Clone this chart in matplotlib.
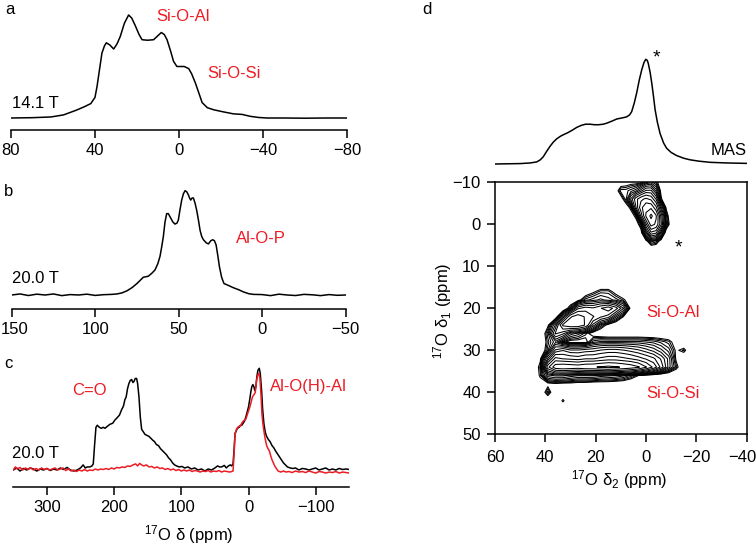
import matplotlib
matplotlib.use("Agg")
import matplotlib.pyplot as plt
import matplotlib.transforms as mtransforms
import numpy as np

plt.rcParams["font.family"] = ["Liberation Sans", "DejaVu Sans"]
plt.rcParams["mathtext.fontset"] = "custom"
plt.rcParams["mathtext.rm"] = "Liberation Sans"
plt.rcParams["mathtext.it"] = "Liberation Sans:italic"

RED = "#ed1c24"

# ---- panel a: 14.1 T spectrum (ppm, relative intensity)
spec_a = [(80, 0.0), (70, 0.003), (61, 0.01), (55, 0.03), (49, 0.075), (45, 0.11),
          (42, 0.14), (40, 0.2), (39, 0.31), (38, 0.45), (36.7, 0.63), (35.5, 0.7),
          (34.6, 0.73), (33, 0.71), (31.1, 0.67), (29.5, 0.72), (28, 0.79), (26, 0.92),
          (24, 1.0), (22.5, 0.97), (20.9, 0.9), (19, 0.81), (17.6, 0.76), (15, 0.755),
          (12.1, 0.76), (10, 0.8), (8.4, 0.83), (7, 0.81), (5.7, 0.76), (4, 0.65),
          (2.6, 0.55), (1, 0.5), (-0.6, 0.5), (-2.5, 0.5), (-4.6, 0.48), (-6, 0.43),
          (-7.8, 0.34), (-9.5, 0.24), (-11, 0.15), (-13.5, 0.1), (-16.5, 0.08),
          (-21, 0.06), (-26, 0.04), (-30, 0.035), (-34, 0.016), (-38, 0.005),
          (-42, 0.0), (-50, 0.0), (-60, -0.002), (-70, 0.0), (-80, 0.0)]

# ---- panel b: 20.0 T spectrum
spec_b = [(150, 0.0), (145, 0.01), (140, -0.005), (135, 0.008), (130, 0.0), (125, 0.01),
          (120, -0.006), (115, 0.004), (110, 0.0), (105, 0.008), (100, -0.004),
          (95, 0.003), (90, 0.006), (87, 0.01), (84, 0.02), (81, 0.04), (78, 0.07),
          (75, 0.11), (71.2, 0.17), (68.2, 0.18), (66, 0.21), (64.2, 0.24), (62.5, 0.3),
          (61.2, 0.37), (60.2, 0.46), (59.2, 0.56), (58.2, 0.7), (57.2, 0.78),
          (56.2, 0.78), (55.2, 0.75), (53.5, 0.7), (52.2, 0.68), (51, 0.69),
          (50.2, 0.72), (49.2, 0.82), (48.2, 0.91), (47.2, 0.97), (46.2, 1.0),
          (45.2, 0.99), (44.2, 0.96), (43.5, 0.93), (42.8, 0.91), (42, 0.93),
          (41.2, 0.93), (40.2, 0.88), (39.2, 0.81), (38.2, 0.72), (37.2, 0.62),
          (36.2, 0.56), (35.2, 0.53), (33.5, 0.5), (32.2, 0.49), (30.8, 0.52),
          (29.6, 0.53), (28.6, 0.52), (27.6, 0.48), (26.6, 0.38), (25.6, 0.27),
          (24.3, 0.17), (22.9, 0.11), (20, 0.09), (17.3, 0.07), (14, 0.05),
          (11.3, 0.03), (8, 0.012), (5.3, 0.006), (0, 0.004), (-5, -0.006),
          (-10, 0.008), (-15, 0.0), (-20, -0.005), (-25, 0.006), (-30, 0.002),
          (-35, -0.006), (-40, 0.004), (-45, -0.003), (-50, 0.0)]

# ---- panel c: 20.0 T, black and red traces
spec_c_black = [
    (350, 0.0), (345, 0.02), (340, -0.01), (335, 0.015), (330, 0.0), (325, 0.02),
    (320, 0.01), (315, -0.01), (310, 0.01), (305, 0.0), (300, 0.015), (295, -0.005),
    (290, 0.01), (285, 0.0), (280, 0.02), (275, 0.005), (270, 0.025), (265, 0.0),
    (260, -0.01), (255, 0.0), (250, 0.02), (246, 0.05), (243, 0.02), (240, 0.03),
    (236, 0.03), (233, 0.04), (231, 0.06), (229, 0.25), (227, 0.42), (225, 0.44),
    (222, 0.42), (219, 0.41), (216, 0.42), (213.6, 0.41), (210, 0.43), (206, 0.45),
    (202, 0.46), (199, 0.49), (196, 0.51), (192, 0.54), (189, 0.59), (186, 0.63),
    (184, 0.69), (182, 0.72), (180, 0.8), (178, 0.85), (176, 0.88), (174, 0.89),
    (172, 0.86), (170.5, 0.87), (168.5, 0.9), (166.5, 0.9), (165, 0.85), (163, 0.72),
    (161, 0.52), (159, 0.4), (157, 0.38), (154, 0.35), (151, 0.34), (148, 0.33),
    (145, 0.31), (142, 0.29), (140, 0.28), (137, 0.25), (134, 0.24), (131, 0.21),
    (128, 0.19), (125, 0.17), (122, 0.15), (119, 0.12), (116, 0.1), (113, 0.07),
    (110, 0.05), (107, 0.04), (103, 0.03), (99, 0.035), (95, 0.02), (90, 0.03),
    (85, 0.01), (80, 0.02), (75, 0.0), (70, 0.01), (65, -0.01), (60, 0.01),
    (55, 0.0), (50, 0.02), (46, 0.04), (43, 0.03), (40, 0.03), (36, 0.045),
    (33, 0.02), (30, 0.04), (27, 0.05), (25, 0.04), (23, 0.06), (21.5, 0.2),
    (20, 0.36), (18, 0.39), (16.5, 0.41), (14, 0.42), (12, 0.44), (10, 0.44),
    (8, 0.46), (6, 0.48), (4, 0.52), (2, 0.57), (0, 0.62), (-2, 0.7), (-3.5, 0.77),
    (-5, 0.82), (-6.5, 0.84), (-8, 0.82), (-9.5, 0.78), (-11, 0.82), (-12.5, 0.92),
    (-14, 0.98), (-16, 1.0), (-17.5, 0.95), (-19.5, 0.78), (-21, 0.6), (-23, 0.45),
    (-25, 0.37), (-27, 0.33), (-29.5, 0.3), (-32, 0.28), (-35, 0.24), (-37.5, 0.22),
    (-40, 0.19), (-43, 0.16), (-46, 0.13), (-49, 0.1), (-52, 0.07), (-55, 0.05),
    (-58, 0.03), (-62, 0.02), (-66, 0.015), (-70, 0.02), (-75, 0.0), (-80, 0.015),
    (-85, 0.01), (-90, 0.0), (-95, 0.01), (-100, 0.02), (-105, 0.0), (-110, 0.01),
    (-115, 0.02), (-120, 0.0), (-125, 0.01), (-130, 0.0), (-135, 0.015),
    (-140, 0.005), (-145, 0.01), (-150, 0.005)]

spec_c_red = [
    (350, 0.0), (347, 0.03), (344, 0.01), (340, 0.025), (336, 0.0), (332, 0.02),
    (328, 0.005), (324, 0.02), (320, 0.0), (316, 0.015), (312, 0.0), (308, 0.02),
    (304, 0.005), (300, 0.015), (296, 0.0), (292, 0.01), (288, 0.02), (284, 0.0),
    (280, 0.01), (276, 0.02), (272, -0.005), (268, 0.01), (264, -0.01), (260, 0.0),
    (256, -0.015), (252, 0.0), (248, -0.01), (244, 0.005), (240, -0.01), (236, 0.0),
    (232, -0.005), (228, 0.01), (224, 0.0), (220, 0.01), (216, 0.005), (212, 0.015),
    (208, 0.005), (204, 0.02), (200, 0.01), (196, 0.025), (192, 0.02), (188, 0.03),
    (184, 0.025), (180, 0.04), (176, 0.035), (172, 0.05), (168, 0.06), (165, 0.04),
    (162, 0.065), (159, 0.05), (156, 0.04), (152, 0.05), (148, 0.03), (144, 0.035),
    (140, 0.02), (136, 0.03), (132, 0.015), (128, 0.02), (124, 0.005), (120, 0.015),
    (116, 0.0), (112, 0.01), (108, -0.005), (104, 0.005), (100, -0.01), (96, 0.0),
    (92, -0.01), (88, 0.0), (84, -0.015), (80, -0.005), (76, -0.01), (72, -0.02),
    (68, -0.01), (64, -0.015), (60, -0.005), (56, -0.02), (52, -0.01), (48, -0.015),
    (44, -0.005), (40, -0.02), (36, -0.01), (32, -0.015), (28, -0.02), (25, -0.015),
    (23, -0.01), (21.5, 0.15), (20, 0.35), (18, 0.4), (16, 0.42), (14, 0.43),
    (12, 0.43), (10, 0.46), (8, 0.48), (6, 0.49), (4, 0.5), (2, 0.54), (0, 0.58),
    (-2, 0.62), (-4, 0.67), (-6, 0.72), (-8, 0.74), (-10, 0.76), (-12, 0.88),
    (-14, 0.94), (-15.5, 0.95), (-17, 0.9), (-18.5, 0.75), (-20, 0.55),
    (-21.5, 0.45), (-23, 0.38), (-25, 0.3), (-27, 0.24), (-29, 0.21), (-31, 0.19),
    (-33, 0.14), (-35, 0.1), (-37, 0.07), (-39, 0.04), (-41, 0.02), (-44, -0.01),
    (-48, -0.02), (-52, -0.01), (-56, -0.02), (-60, -0.015), (-65, -0.025),
    (-70, -0.01), (-75, -0.02), (-80, -0.015), (-85, -0.025), (-90, -0.01),
    (-95, -0.02), (-100, -0.03), (-105, -0.015), (-110, -0.02), (-115, -0.03),
    (-120, -0.02), (-125, -0.025), (-130, -0.015), (-135, -0.03), (-140, -0.02),
    (-145, -0.025), (-150, -0.03)]

# ---- panel d: MAS projection
spec_mas = [(60, 0.0), (55, 0.002), (50, 0.004), (46, 0.01), (43.4, 0.02), (42, 0.04),
            (40.8, 0.07), (39.5, 0.12), (38.1, 0.17), (36.8, 0.21), (35.5, 0.24),
            (34, 0.265), (32.8, 0.28), (31, 0.3), (29.5, 0.32), (27.5, 0.35),
            (25.6, 0.37), (24, 0.38), (22.2, 0.38), (20.5, 0.375), (18.9, 0.375),
            (17, 0.38), (15.6, 0.39), (13.5, 0.41), (11.6, 0.43), (9.5, 0.44),
            (7.7, 0.45), (6.5, 0.47), (5.7, 0.5), (4.7, 0.58), (3.7, 0.68), (2.7, 0.8),
            (1.7, 0.9), (0.8, 0.97), (0.1, 1.0), (-0.5, 0.99), (-0.9, 0.96),
            (-1.6, 0.88), (-2.3, 0.77), (-3, 0.64), (-3.6, 0.52), (-4.5, 0.4),
            (-5.6, 0.29), (-7, 0.2), (-8.2, 0.15), (-10, 0.11), (-12.2, 0.08),
            (-15, 0.055), (-17.5, 0.04), (-21, 0.027), (-25.5, 0.016), (-32, 0.01),
            (-39.8, 0.006)]

# ---- panel d: 2D map, read on coarse grids (delta2 columns, delta1 rows)
ridge_d2 = [48, 45, 42, 39, 36, 33, 30, 27, 24, 21, 18, 15, 12, 9, 6, 3, 0, -3, -6, -9, -12, -15, -18]
ridge_d1 = [12, 14, 16, 18, 20, 22, 24, 26, 28, 30, 32, 34, 36, 38, 40, 42, 44, 46]
ridge_z = [
    [0] * 23,
    [0] * 23,
    [0, 0, 0, 0, 0, 0, 0, 0, 0.02, 0.05, 0.08, 0.08, 0.04, 0, 0, 0, 0, 0, 0, 0, 0, 0, 0],
    [0, 0, 0, 0, 0, 0, 0, 0.04, 0.1, 0.12, 0.14, 0.12, 0.1, 0.07, 0.02, 0, 0, 0, 0, 0, 0, 0, 0],
    [0, 0, 0, 0, 0, 0, 0.1, 0.28, 0.32, 0.3, 0.35, 0.4, 0.32, 0.2, 0.04, 0, 0, 0, 0, 0, 0, 0, 0],
    [0, 0, 0, 0, 0.02, 0.2, 0.42, 0.48, 0.42, 0.36, 0.3, 0.26, 0.14, 0.06, 0, 0, 0, 0, 0, 0, 0, 0, 0],
    [0, 0, 0, 0.05, 0.2, 0.45, 0.5, 0.5, 0.42, 0.22, 0.1, 0.04, 0.01, 0, 0, 0, 0, 0, 0, 0, 0, 0, 0],
    [0, 0, 0, 0.1, 0.3, 0.25, 0.15, 0.12, 0.08, 0.03, 0.01, 0, 0, 0, 0, 0, 0, 0, 0, 0, 0, 0, 0],
    [0, 0, 0, 0.08, 0.15, 0.07, 0.04, 0.04, 0.04, 0.12, 0.14, 0.14, 0.14, 0.14, 0.14, 0.14, 0.13, 0.12, 0.1, 0.08, 0.03, 0, 0],
    [0, 0, 0, 0.1, 0.3, 0.35, 0.3, 0.3, 0.32, 0.33, 0.36, 0.38, 0.38, 0.36, 0.33, 0.3, 0.26, 0.22, 0.17, 0.12, 0.05, 0.08, 0],
    [0, 0, 0.05, 0.3, 0.56, 0.52, 0.5, 0.48, 0.52, 0.52, 0.55, 0.58, 0.58, 0.55, 0.52, 0.47, 0.42, 0.37, 0.28, 0.18, 0.05, 0, 0],
    [0, 0, 0.08, 0.6, 0.88, 0.92, 0.9, 0.88, 0.92, 0.93, 0.97, 1.0, 0.97, 0.93, 0.88, 0.8, 0.65, 0.5, 0.33, 0.18, 0.08, 0, 0],
    [0, 0, 0.07, 0.22, 0.25, 0.25, 0.22, 0.2, 0.2, 0.2, 0.18, 0.17, 0.16, 0.14, 0.1, 0.06, 0.03, 0.01, 0, 0, 0, 0, 0],
    [0, 0, 0.03, 0.04, 0.05, 0.04, 0.04, 0.03, 0.03, 0.02, 0.02, 0.02, 0.015, 0.01, 0, 0, 0, 0, 0, 0, 0, 0, 0],
    [0, 0, 0, 0.1, 0, 0, 0, 0, 0, 0, 0, 0, 0, 0, 0, 0, 0, 0, 0, 0, 0, 0, 0],
    [0, 0, 0, 0, 0, 0.07, 0, 0, 0, 0, 0, 0, 0, 0, 0, 0, 0, 0, 0, 0, 0, 0, 0],
    [0] * 23,
    [0] * 23,
]

blob_d2 = [14, 12, 10, 8, 6, 4, 2, 0, -2, -4, -6, -8, -10, -12]
blob_d1 = [-12, -10, -8, -6, -4, -2, 0, 2, 4, 6]
blob_z = [
    [0, 0, 0, 0, 0, 0, 0.02, 0.08, 0.1, 0.05, 0, 0, 0, 0],
    [0, 0, 0.02, 0.03, 0.04, 0.04, 0.05, 0.1, 0.12, 0.08, 0.02, 0, 0, 0],
    [0, 0.03, 0.1, 0.1, 0.12, 0.15, 0.22, 0.3, 0.3, 0.18, 0.04, 0, 0, 0],
    [0, 0, 0.03, 0.1, 0.25, 0.4, 0.5, 0.55, 0.5, 0.35, 0.07, 0, 0, 0],
    [0, 0, 0, 0.02, 0.08, 0.35, 0.6, 0.75, 0.75, 0.55, 0.25, 0.05, 0, 0],
    [0, 0, 0, 0, 0.02, 0.08, 0.45, 0.8, 1.0, 0.8, 0.4, 0.1, 0, 0],
    [0, 0, 0, 0, 0, 0.02, 0.1, 0.5, 0.85, 0.75, 0.45, 0.12, 0.02, 0],
    [0, 0, 0, 0, 0, 0, 0.03, 0.25, 0.5, 0.45, 0.2, 0.02, 0, 0],
    [0, 0, 0, 0, 0, 0, 0, 0.04, 0.12, 0.1, 0.03, 0, 0, 0],
    [0] * 14,
]

W, H = 756, 548
fig = plt.figure(figsize=(W / 100, H / 100), dpi=100)


def px_axes(left, top, right, bottom):
    return fig.add_axes([left / W, 1 - bottom / H, (right - left) / W, (bottom - top) / H])


def ftext(x, y, s, **kw):
    kw.setdefault("fontsize", 12)
    kw.setdefault("va", "baseline")
    fig.text(x / W, 1 - y / H, s, **kw)


def nudge(label, dx_px):
    # shift one tick label sideways so it stays inside the figure
    label.set_transform(label.get_transform()
                        + mtransforms.ScaledTranslation(dx_px / 100, 0, fig.dpi_scale_trans))


def spectrum_axes(left, top, right, bottom, base_px, peak_px, xlim, ticks, axis=True):
    ax = px_axes(left, top, right, bottom)
    h = bottom - top
    f0 = (bottom - base_px) / h
    f1 = (bottom - peak_px) / h
    ax.set_ylim(-f0 / (f1 - f0), (1 - f0) / (f1 - f0))
    ax.set_xlim(*xlim)
    ax.patch.set_alpha(0)
    for s in ["top", "left", "right"]:
        ax.spines[s].set_visible(False)
    ax.set_yticks([])
    if axis:
        ax.set_xticks(ticks)
        ax.spines["bottom"].set_linewidth(1.1)
        ax.tick_params(axis="x", direction="out", length=6, width=1.1, pad=3.6, labelsize=12)
    else:
        ax.spines["bottom"].set_visible(False)
        ax.set_xticks([])
    return ax


def plot_spec(ax, spec, color="black"):
    arr = np.array(spec)
    ax.plot(arr[:, 0], arr[:, 1], color=color, lw=1.1)


# panel a
ax_a = spectrum_axes(11, 5, 347, 130, 118, 15, (80, -80), [80, 40, 0, -40, -80])
plot_spec(ax_a, spec_a)
ftext(5, 13.5, "a")
ftext(12.5, 108.5, "14.1 T")
ftext(156, 20.7, "Si-O-Al", color=RED)
ftext(207, 78.3, "Si-O-Si", color=RED)

# panel b
ax_b = spectrum_axes(11.7, 180, 345.7, 309, 295, 190.7, (150, -50), [150, 100, 50, 0, -50])
plot_spec(ax_b, spec_b)
nudge(ax_b.get_xticklabels()[0], 3)
ftext(4, 196, "b")
ftext(11.7, 283.3, "20.0 T")
ftext(235.7, 243.3, "Al-O-P", color=RED)

# panel c
ax_c = spectrum_axes(13.3, 355, 349.3, 486.7, 470, 368.3, (350, -150), [300, 200, 100, 0, -100])
plot_spec(ax_c, spec_c_black)
plot_spec(ax_c, spec_c_red, RED)
ftext(4, 368.3, "c")
ftext(71.7, 395, "C=O", color=RED)
ftext(270, 391, "Al-O(H)-Al", color=RED)
ftext(11.7, 458.3, "20.0 T")
ftext(189, 540, r"$^{17}$O δ (ppm)", ha="center")

# panel d: MAS projection on top
ax_m = spectrum_axes(495, 40, 746.7, 170, 164, 59.3, (60, -40), [], axis=False)
plot_spec(ax_m, spec_mas)
ftext(422, 14, "d")
ftext(656, 62, "*", fontsize=14, ha="center")
ftext(746.7, 155, "MAS", ha="right")

# panel d: 2D contour map
ax_d = px_axes(495, 182.3, 746.7, 434.3)
levels = np.geomspace(0.06, 0.95, 15)
ax_d.contour(ridge_d2, ridge_d1, np.array(ridge_z), levels=levels, colors="black", linewidths=0.75)
ax_d.contour(blob_d2, blob_d1, np.array(blob_z), levels=levels, colors="black", linewidths=0.75)
ax_d.set_xlim(60, -40)
ax_d.set_ylim(50, -10)
ax_d.set_xticks([60, 40, 20, 0, -20, -40])
ax_d.set_yticks([-10, 0, 10, 20, 30, 40, 50])
for s in ax_d.spines.values():
    s.set_linewidth(1.1)
ax_d.tick_params(direction="out", length=6, width=1.1, labelsize=12)
ax_d.tick_params(axis="x", pad=5)
ax_d.tick_params(axis="y", pad=4.3)
nudge(ax_d.get_xticklabels()[-1], -4)
ftext(678, 252.5, "*", fontsize=14, ha="center")
ftext(646, 316.7, "Si-O-Al", color=RED)
ftext(646, 398, "Si-O-Si", color=RED)
ftext(619, 485.5, r"$^{17}$O δ$_2$ (ppm)", ha="center")
ftext(443, 311, r"$^{17}$O δ$_1$ (ppm)", rotation=90, ha="center", va="center")

fig.savefig("out.png", dpi=100)
